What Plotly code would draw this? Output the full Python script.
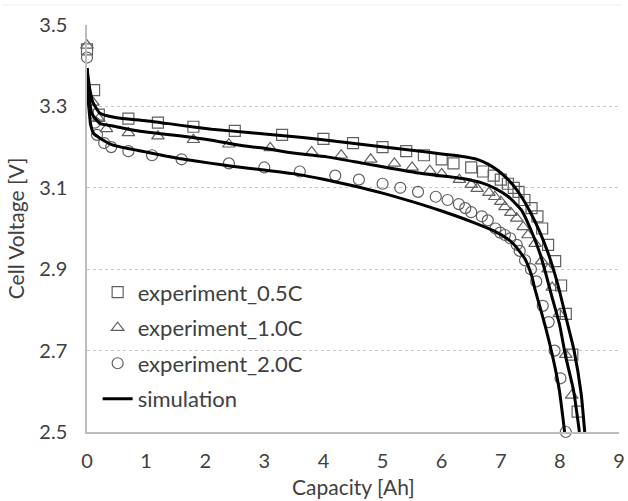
import plotly.graph_objects as go

# Measured discharge points (capacity in Ah, cell voltage in V)
exp_05_cap = [0.00, 0.12, 0.20, 0.70, 1.20, 1.80, 2.50, 3.30, 4.00, 4.50, 5.00, 5.40, 5.70, 6.00,
              6.20, 6.50, 6.70, 6.88, 7.00, 7.12, 7.22, 7.30, 7.40, 7.52, 7.62, 7.70, 7.80, 7.92,
              8.02, 8.10, 8.21, 8.30]
exp_05_volt = [3.44, 3.34, 3.28, 3.27, 3.26, 3.25, 3.24, 3.23, 3.22, 3.21, 3.20, 3.19, 3.18, 3.17,
               3.16, 3.15, 3.14, 3.13, 3.12, 3.11, 3.10, 3.09, 3.07, 3.05, 3.03, 3.00, 2.96, 2.92,
               2.86, 2.79, 2.69, 2.55]

exp_10_cap = [0.00, 0.10, 0.20, 0.33, 0.70, 1.20, 1.80, 2.40, 3.10, 3.80, 4.30, 4.80, 5.20, 5.50,
              5.80, 6.00, 6.30, 6.50, 6.60, 6.80, 6.90, 7.00, 7.07, 7.17, 7.27, 7.38, 7.46, 7.58,
              7.69, 7.80, 7.87, 7.99, 8.10, 8.20]
exp_10_volt = [3.45, 3.31, 3.27, 3.245, 3.235, 3.227, 3.218, 3.207, 3.198, 3.188, 3.180, 3.170, 3.160,
               3.150, 3.142, 3.134, 3.120, 3.108, 3.098, 3.088, 3.078, 3.066, 3.053, 3.039, 3.025,
               3.004, 2.984, 2.963, 2.92, 2.90, 2.855, 2.79, 2.69, 2.59]

exp_20_cap = [0.00, 0.13, 0.17, 0.29, 0.41, 0.70, 1.10, 1.60, 2.40, 3.00, 3.60, 4.20, 4.60, 5.00,
              5.30, 5.60, 5.90, 6.10, 6.29, 6.40, 6.50, 6.68, 6.78, 6.91, 6.99, 7.07, 7.16, 7.27,
              7.32, 7.41, 7.51, 7.60, 7.71, 7.81, 7.91, 8.01, 8.10]
exp_20_volt = [3.42, 3.26, 3.23, 3.21, 3.20, 3.19, 3.18, 3.17, 3.16, 3.15, 3.14, 3.13, 3.12, 3.11,
               3.10, 3.09, 3.078, 3.07, 3.06, 3.05, 3.04, 3.03, 3.02, 3.00, 2.99, 2.984, 2.976,
               2.96, 2.945, 2.922, 2.90, 2.87, 2.81, 2.77, 2.70, 2.632, 2.50]

# Model curves
sim_05_cap = [0.00, 0.05, 0.10, 0.22, 0.50, 1.00, 1.56, 2.11, 2.73, 3.56, 4.06, 4.70, 5.57, 6.00,
              6.35, 6.60, 6.80, 7.00, 7.20, 7.35, 7.50, 7.65, 7.80, 7.96, 8.10, 8.24, 8.36, 8.42]
sim_05_volt = [3.394, 3.34, 3.31, 3.283, 3.272, 3.265, 3.254, 3.244, 3.236, 3.225, 3.217, 3.206,
               3.191, 3.183, 3.177, 3.170, 3.157, 3.137, 3.108, 3.078, 3.040, 2.995, 2.940, 2.865,
               2.783, 2.700, 2.594, 2.50]

sim_10_cap = [0.00, 0.04, 0.08, 0.22, 0.44, 0.77, 1.00, 1.56, 2.11, 2.56, 3.00, 3.56, 4.06, 4.68,
              5.57, 6.35, 6.68, 6.91, 7.13, 7.35, 7.50, 7.66, 7.76, 7.86, 7.99, 8.10, 8.23, 8.33]
sim_10_volt = [3.394, 3.32, 3.283, 3.258, 3.252, 3.242, 3.237, 3.228, 3.217, 3.205, 3.197, 3.184,
               3.176, 3.160, 3.137, 3.123, 3.112, 3.098, 3.078, 3.045, 3.000, 2.940, 2.890, 2.835,
               2.767, 2.684, 2.603, 2.50]

sim_20_cap = [0.00, 0.03, 0.07, 0.11, 0.22, 0.44, 1.00, 1.33, 1.56, 2.11, 2.45, 2.73, 3.56, 4.00,
              4.50, 5.00, 5.50, 6.00, 6.50, 6.90, 7.13, 7.24, 7.41, 7.52, 7.58, 7.74, 7.88, 7.99,
              8.08]
sim_20_volt = [3.394, 3.30, 3.25, 3.234, 3.222, 3.205, 3.188, 3.178, 3.172, 3.160, 3.153, 3.148,
               3.133, 3.121, 3.105, 3.087, 3.066, 3.043, 3.017, 2.993, 2.973, 2.958, 2.925, 2.885,
               2.850, 2.767, 2.684, 2.603, 2.50]

x_ticks = [0, 1, 2, 3, 4, 5, 6, 7, 8, 9]
y_ticks = [2.5, 2.7, 2.9, 3.1, 3.3, 3.5]

FONT = "Lato"
TEXT = "#404040"
MARK = "#606060"

fig = go.Figure()

for name, cx, vy, sym in [
    ("experiment_0.5C", exp_05_cap, exp_05_volt, "square-open"),
    ("experiment_1.0C", exp_10_cap, exp_10_volt, "triangle-up-open"),
    ("experiment_2.0C", exp_20_cap, exp_20_volt, "circle-open"),
]:
    fig.add_trace(go.Scatter(
        x=cx, y=vy, mode="markers", name=name, legendgroup=name,
        marker=dict(symbol=sym, size=11, color=MARK, line=dict(width=1.2, color=MARK)),
        cliponaxis=False,
    ))

# Three simulated curves joined into one legend entry
sim_x, sim_y = [], []
for cx, vy in [(sim_05_cap, sim_05_volt), (sim_10_cap, sim_10_volt), (sim_20_cap, sim_20_volt)]:
    sim_x += cx + [None]
    sim_y += vy + [None]

fig.add_trace(go.Scatter(
    x=sim_x, y=sim_y, mode="lines", name="simulation", legendgroup="simulation",
    line=dict(color="black", width=3, shape="spline", smoothing=0.5),
    connectgaps=False,
))

fig.update_layout(
    width=628, height=501,
    margin=dict(l=87, r=3, t=25, b=69),
    paper_bgcolor="white", plot_bgcolor="white",
    font=dict(family=FONT, color=TEXT, size=20),
    showlegend=True,
    legend=dict(
        x=0.02, y=0.395, xanchor="left", yanchor="top",
        bgcolor="rgba(0,0,0,0)", borderwidth=0,
        font=dict(family=FONT, size=22, color=TEXT),
        tracegroupgap=4,
    ),
    xaxis=dict(
        range=[0, 9], tickvals=x_ticks, ticktext=[str(v) for v in x_ticks],
        showgrid=False, zeroline=False, showline=True, linecolor="#bdbdbd", linewidth=1.5,
        ticks="", ticklabelstandoff=10, ticklabeloverflow="allow",
        tickfont=dict(size=20, color=TEXT),
    ),
    yaxis=dict(
        range=[2.5, 3.5], tickvals=y_ticks, ticktext=[f"{v:.1f}" for v in y_ticks],
        showgrid=True, gridcolor="#c8c8c8", griddash="dot", gridwidth=1,
        zeroline=False, showline=True, linecolor="#bdbdbd", linewidth=1.5,
        ticks="", ticklabelstandoff=14, ticklabeloverflow="allow",
        tickfont=dict(size=20, color=TEXT),
    ),
    shapes=[
        dict(type="line", xref="paper", yref="paper", x0=-0.16, x1=1.006, y0=1.049, y1=1.049,
             line=dict(color="#f0f0f0", width=1)),
    ],
    annotations=[
        dict(text="Capacity [Ah]", xref="paper", yref="paper", x=0.5, y=-0.133,
             xanchor="center", yanchor="middle", showarrow=False,
             font=dict(family=FONT, size=21, color=TEXT)),
        dict(text="Cell Voltage [V]", xref="paper", yref="paper", x=-0.134, y=0.5,
             xanchor="center", yanchor="middle", showarrow=False, textangle=-90,
             font=dict(family=FONT, size=21, color=TEXT)),
    ],
)

fig.write_html("out.html")
